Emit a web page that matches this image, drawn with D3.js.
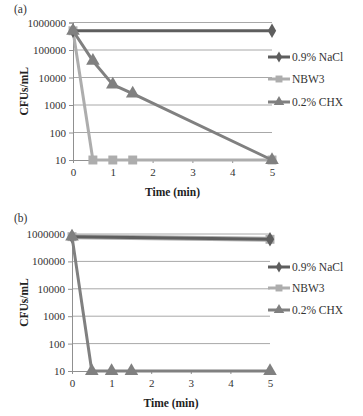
<!DOCTYPE html>
<html><head><meta charset="utf-8">
<script src="https://cdn.jsdelivr.net/npm/d3@7"></script>
<style>body{margin:0;background:#fff}</style>
</head><body>
<svg id="c" width="363" height="416"></svg>
<script>
const yTicks = [10, 100, 1000, 10000, 100000, 1000000];
const xTicks = [0, 1, 2, 3, 4, 5];
const seriesNames = ["0.9% NaCl", "NBW3", "0.2% CHX"];
const panelLabels = ["(a)", "(b)"];
// panel (a)
const aNaClT = [0, 5], aNaClV = [500000, 500000];
const aNBW3T = [0, 0.5, 1, 1.5, 5], aNBW3V = [500000, 10, 10, 10, 10];
const aCHXT = [0, 0.5, 1, 1.5, 5], aCHXV = [500000, 40000, 5500, 2600, 10];
// panel (b)
const bNaClT = [0, 5], bNaClV = [800000, 640000];
const bNBW3T = [0, 5], bNBW3V = [800000, 640000];
const bCHXT = [0, 0.5, 1, 1.5, 5], bCHXV = [800000, 10, 10, 10, 10];

const colors = ["#5e5e5e", "#adadad", "#808080"];
const shapes = [d3.symbolDiamond, d3.symbolSquare, d3.symbolTriangle];
const sizes = [60, 80, 80];

const svg = d3.select("#c");
const font = "'Liberation Serif','Times New Roman',serif";

function panel(top, x0, x1, y0, y1, series, label, legendYs) {
  const g = svg.append("g");
  const x = d3.scaleLinear().domain([0, 5]).range([x0, x1]);
  const y = d3.scaleLog().domain([10, 1000000]).range([y1, y0]);
  g.append("text").attr("x", 14).attr("y", top).attr("font-family", font)
    .attr("font-size", 11.5).attr("fill", "#333").text(label);
  // grid
  g.selectAll(".grid").data(yTicks.slice(1)).enter().append("line")
    .attr("x1", x0).attr("x2", x1).attr("y1", d => y(d)).attr("y2", d => y(d))
    .attr("stroke", "#a8a8a8").attr("stroke-width", 1);
  // y axis
  const ya = g.append("g").attr("transform", `translate(${x0},0)`)
    .call(d3.axisLeft(y).tickValues(yTicks).tickFormat(d3.format("d")).tickSize(4).tickPadding(3));
  ya.select(".domain").attr("stroke", "#909090");
  ya.selectAll(".tick line").attr("stroke", "#909090");
  ya.selectAll("text").attr("font-family", font).attr("font-size", 11).attr("fill", "#333");
  // x axis
  const xa = g.append("g").attr("transform", `translate(0,${y1})`)
    .call(d3.axisBottom(x).tickValues(xTicks).tickFormat(d3.format("d")).tickSize(3).tickPadding(5));
  xa.select(".domain").attr("stroke", "#909090");
  xa.selectAll(".tick line").attr("stroke", "#909090");
  xa.selectAll("text").attr("font-family", font).attr("font-size", 11).attr("fill", "#333");
  g.append("text").attr("x", (x0 + x1) / 2).attr("y", y1 + 36).attr("text-anchor", "middle")
    .attr("font-family", font).attr("font-size", 11.5).attr("font-weight", "bold").attr("fill", "#222")
    .text("Time (min)");
  g.append("text").attr("transform", `translate(28,${(y0 + y1) / 2}) rotate(-90)`)
    .attr("text-anchor", "middle").attr("font-family", font).attr("font-size", 11.5)
    .attr("font-weight", "bold").attr("fill", "#222").text("CFUs/mL");
  const line = d3.line().x(d => x(d[0])).y(d => y(d[1]));
  const order = [1, 0, 2];
  order.forEach(i => {
    const s = series[i];
    const pts = s.t.map((t, k) => [t, s.v[k]]);
    g.append("path").datum(pts).attr("d", line).attr("fill", "none")
      .attr("stroke", colors[i]).attr("stroke-width", i === 1 && s.wide ? 5 : 3)
      .attr("stroke-linejoin", "round");
    g.selectAll(null).data(pts).enter().append("path")
      .attr("d", d3.symbol().type(shapes[i]).size(sizes[i]))
      .attr("transform", d => `translate(${x(d[0])},${y(d[1])})`)
      .attr("fill", colors[i]);
  });
  // legend
  seriesNames.forEach((n, i) => {
    const ly = legendYs[i];
    g.append("line").attr("x1", 268).attr("x2", 290).attr("y1", ly).attr("y2", ly)
      .attr("stroke", colors[i]).attr("stroke-width", 3);
    g.append("path").attr("d", d3.symbol().type(shapes[i]).size(sizes[i] * 0.6))
      .attr("transform", `translate(279,${ly})`).attr("fill", colors[i]);
    g.append("text").attr("x", 292).attr("y", ly + 4).attr("font-family", font)
      .attr("font-size", 11.5).attr("fill", "#333").text(n);
  });
}

panel(13, 73, 272, 22.5, 160, [
  {t: aNaClT, v: aNaClV}, {t: aNBW3T, v: aNBW3V}, {t: aCHXT, v: aCHXV}
], panelLabels[0], [57, 79, 102]);

panel(222, 72, 270, 234, 371, [
  {t: bNaClT, v: bNaClV}, {t: bNBW3T, v: bNBW3V, wide: true}, {t: bCHXT, v: bCHXV}
], panelLabels[1], [267, 288, 310]);
</script>
</body></html>
